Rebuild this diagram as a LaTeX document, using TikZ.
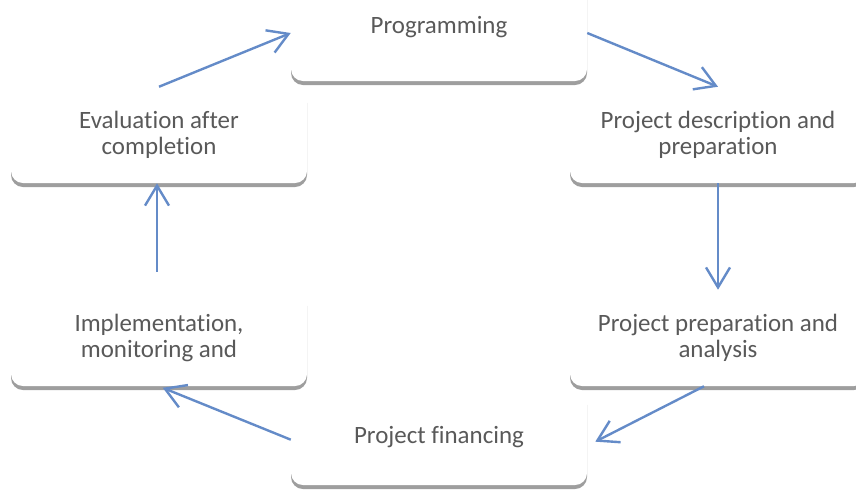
\documentclass[tikz,border=0pt]{standalone}
\usepackage{fontspec}
\setmainfont{Carlito}[Ligatures=NoCommon]
\usetikzlibrary{arrows.meta,shadows}
\definecolor{cyclearrow}{RGB}{100,139,200}
\definecolor{cycletext}{RGB}{89,89,89}
\tikzset{
	stagebox/.style={fill=white, rounded corners=9pt, minimum width=222pt,
		minimum height=72pt, align=center, text=cycletext,
		font=\fontsize{18.7}{20}\selectfont,
		drop shadow={shadow xshift=0pt, shadow yshift=-3pt, fill=black!38, opacity=1}}
}
\tikzset{
	cyclearr/.style={draw=cyclearrow, line width=1.8pt,
		-{Straight Barb[length=15pt,width=18pt]}}
}

\begin{document}
\begin{tikzpicture}[x=0.75pt, y=-0.75pt]
      \useasboundingbox (0,0) rectangle (856,490);
      % the six stages of the cycle
      \node[stagebox, minimum height=81pt] (prog) at (439,27) {Programming};
      \node[stagebox] (desc) at (718,135) {Project description and\\preparation};
      \node[stagebox] (anal) at (718,338) {Project preparation and\\analysis};
      \node[stagebox] (fin) at (439,437) {Project financing};
      \node[stagebox] (impl) at (159,338) {Implementation,\\monitoring and};
      \node[stagebox] (eval) at (159,135) {Evaluation after\\completion};
      % arrows round the cycle
      \draw[cyclearr] (eval.north) -- ([yshift=-4.5pt]prog.west);
      \draw[cyclearr] ([yshift=-4.5pt]prog.east) -- (desc.north);
      \draw[cyclearr] (desc.south) -- (anal.north);
      \draw[cyclearr] ([xshift=-10.5pt]anal.south) -- ([xshift=6pt,yshift=-3.5pt]fin.east);
      \draw[cyclearr, shorten >=3pt] ([yshift=-2pt]fin.west) -- (impl.south);
      \draw[cyclearr, shorten <=13.5pt] ([xshift=-1.5pt]impl.north) -- ([xshift=-1.5pt]eval.south);
    \end{tikzpicture}
\end{document}
